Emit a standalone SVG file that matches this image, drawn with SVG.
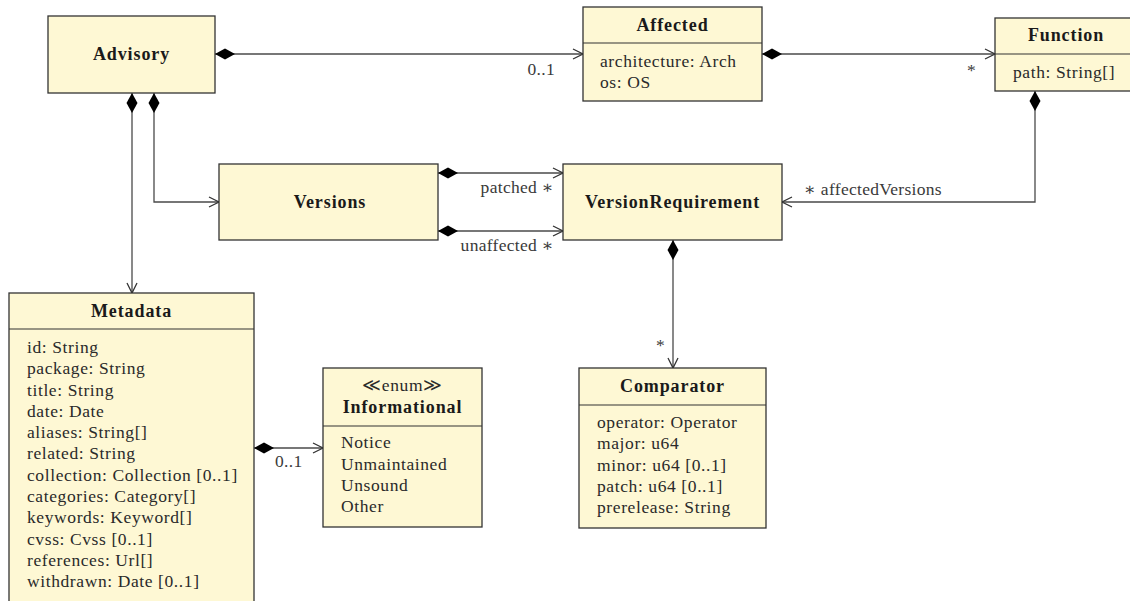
<svg xmlns="http://www.w3.org/2000/svg" width="1130" height="601" viewBox="0 0 1130 601">
  <style>
    .box { fill: #fef8d4; stroke: #333; stroke-width: 1.3; }
    .sep { stroke: #333; stroke-width: 1.2; }
    .title { font-family: "Liberation Serif", "DejaVu Serif", serif; font-weight: bold; font-size: 18px; letter-spacing: 0.9px; fill: #1a1a1a; text-anchor: middle; }
    .attr { font-family: "Liberation Serif", "DejaVu Serif", serif; font-size: 17.5px; letter-spacing: 0.6px; fill: #2a2a2a; }
    .lbl { font-family: "Liberation Serif", "DejaVu Serif", serif; font-size: 17.5px; letter-spacing: 0.3px; fill: #3a3a3a; }
    .conn { fill: none; stroke: #4a4a4a; stroke-width: 1.3; marker-start: url(#diamond); marker-end: url(#open); }
  </style>
  <defs>
    <marker id="diamond" markerUnits="userSpaceOnUse" markerWidth="22" markerHeight="12" refX="0" refY="5.5" orient="auto" viewBox="0 0 22 12" overflow="visible">
      <path d="M0,5.5 L10,0 L20,5.5 L10,11 Z" fill="#000"/>
    </marker>
    <marker id="open" markerUnits="userSpaceOnUse" markerWidth="12" markerHeight="12" refX="10" refY="5" orient="auto" viewBox="0 0 12 12" overflow="visible">
      <path d="M0,0 L10,5 L0,10" fill="none" stroke="#333" stroke-width="1.3"/>
    </marker>
  </defs>

  <!-- associations -->
  <g id="connectors">
    <path class="conn" d="M215,54 H583"/>
    <path class="conn" d="M762,54 H995"/>
    <path class="conn" d="M154,93 V202 H219"/>
    <path class="conn" d="M132,93 V293"/>
    <path class="conn" d="M438,173 H563"/>
    <path class="conn" d="M438,231 H563"/>
    <path class="conn" d="M1035,91 V202 H782"/>
    <path class="conn" d="M673,240 V368"/>
    <path class="conn" d="M254,448 H323"/>
    <text class="lbl" x="555" y="75" text-anchor="end">0..1</text>
    <text class="lbl" x="976" y="76" text-anchor="end">*</text>
    <text class="lbl" x="554" y="193" text-anchor="end">patched ∗</text>
    <text class="lbl" x="554" y="251" text-anchor="end">unaffected ∗</text>
    <text class="lbl" x="804" y="195">∗ affectedVersions</text>
    <text class="lbl" x="665" y="351" text-anchor="end">*</text>
    <text class="lbl" x="275" y="467">0..1</text>
  </g>

  <g id="advisory">
    <rect class="box" x="48" y="16" width="167" height="77"/>
    <text class="title" x="131.5" y="60">Advisory</text>
  </g>

  <g id="affected">
    <rect class="box" x="583" y="7" width="179" height="94"/>
    <line class="sep" x1="583" y1="43" x2="762" y2="43"/>
    <text class="title" x="672.5" y="31">Affected</text>
    <text class="attr" x="600" y="67">architecture: Arch</text>
    <text class="attr" x="600" y="88">os: OS</text>
  </g>

  <g id="function">
    <rect class="box" x="995" y="18" width="142" height="73"/>
    <line class="sep" x1="995" y1="54" x2="1137" y2="54"/>
    <text class="title" x="1066" y="41">Function</text>
    <text class="attr" x="1013" y="78">path: String[]</text>
  </g>

  <g id="versions">
    <rect class="box" x="219" y="164" width="219" height="76"/>
    <text class="title" x="330" y="208">Versions</text>
  </g>

  <g id="version-requirement">
    <rect class="box" x="563" y="164" width="219" height="76"/>
    <text class="title" x="672.5" y="208">VersionRequirement</text>
  </g>

  <g id="metadata">
    <rect class="box" x="9" y="293" width="245" height="330"/>
    <line class="sep" x1="9" y1="329" x2="254" y2="329"/>
    <text class="title" x="131.5" y="317">Metadata</text>
    <text class="attr" x="27" y="353">id: String</text>
    <text class="attr" x="27" y="374">package: String</text>
    <text class="attr" x="27" y="396">title: String</text>
    <text class="attr" x="27" y="417">date: Date</text>
    <text class="attr" x="27" y="438">aliases: String[]</text>
    <text class="attr" x="27" y="459">related: String</text>
    <text class="attr" x="27" y="481">collection: Collection [0..1]</text>
    <text class="attr" x="27" y="502">categories: Category[]</text>
    <text class="attr" x="27" y="523">keywords: Keyword[]</text>
    <text class="attr" x="27" y="545">cvss: Cvss [0..1]</text>
    <text class="attr" x="27" y="566">references: Url[]</text>
    <text class="attr" x="27" y="587">withdrawn: Date [0..1]</text>
  </g>

  <g id="informational">
    <rect class="box" x="323" y="368" width="159" height="159"/>
    <line class="sep" x1="323" y1="426" x2="482" y2="426"/>
    <text class="attr" x="402.5" y="391" text-anchor="middle">≪enum≫</text>
    <text class="title" x="402.5" y="413">Informational</text>
    <text class="attr" x="341" y="448">Notice</text>
    <text class="attr" x="341" y="470">Unmaintained</text>
    <text class="attr" x="341" y="491">Unsound</text>
    <text class="attr" x="341" y="512">Other</text>
  </g>

  <g id="comparator">
    <rect class="box" x="579" y="368" width="187" height="160"/>
    <line class="sep" x1="579" y1="405" x2="766" y2="405"/>
    <text class="title" x="672.5" y="392">Comparator</text>
    <text class="attr" x="597" y="428">operator: Operator</text>
    <text class="attr" x="597" y="449">major: u64</text>
    <text class="attr" x="597" y="471">minor: u64 [0..1]</text>
    <text class="attr" x="597" y="492">patch: u64 [0..1]</text>
    <text class="attr" x="597" y="513">prerelease: String</text>
  </g>
</svg>
